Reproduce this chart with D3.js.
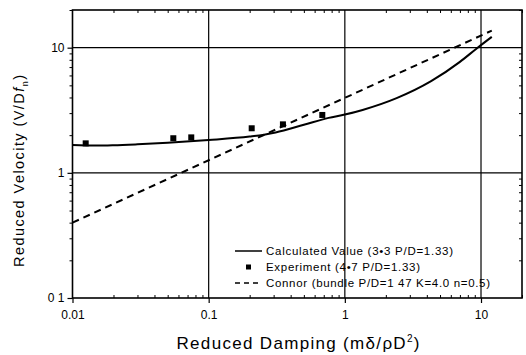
<!DOCTYPE html>
<html><head><meta charset="utf-8">
<script src="https://cdn.jsdelivr.net/npm/d3@7"></script>
<style>body{margin:0;background:#fff}svg{display:block;font-family:"Liberation Sans",Arial,sans-serif}</style>
</head><body><svg id="c" width="526" height="355"></svg>
<script>
const calcX = [0.01, 0.015, 0.02, 0.03, 0.05, 0.1, 0.2, 0.25, 0.31, 0.5, 0.76, 1, 1.35, 2.4, 4.3, 7.0, 9.3, 12.0];
const calcY = [1.67, 1.65, 1.66, 1.69, 1.74, 1.83, 1.95, 2.01, 2.1, 2.42, 2.75, 2.92, 3.18, 3.95, 5.4, 7.7, 9.86, 12.2];
const expX = [0.0125, 0.055, 0.0745, 0.207, 0.351, 0.683];
const expY = [1.72, 1.89, 1.92, 2.27, 2.44, 2.9];
const connorX = [0.01, 12];
const connorY = [0.4, 13.7];
const xTickVals = [0.01, 0.1, 1, 10];
const xTickLabels = ["0.01", "0.1", "1", "10"];
const yTickVals = [0.1, 1, 10];
const yTickLabels = ["0 1", "1", "10"];
const legendLabels = ["Calculated Value (3\u20223 P/D=1.33)", "Experiment (4\u20227 P/D=1.33)", "Connor (bundle P/D=1 47 K=4.0 n=0.5)"];

const svg = d3.select("#c");
const L = 72.5, R = 522, T = 10, B = 298;
const x = d3.scaleLog().domain([0.01, 20]).range([L, R]);
const y = d3.scaleLog().domain([0.1, 20]).range([B, T]);

// grid
const g = svg.append("g");
g.selectAll("line.vx").data([0.1, 1, 10]).join("line")
  .attr("x1", d => x(d)).attr("x2", d => x(d)).attr("y1", T).attr("y2", B)
  .attr("stroke", "#000").attr("stroke-width", 1.2);
g.selectAll("line.hy").data([1, 10]).join("line")
  .attr("y1", d => y(d)).attr("y2", d => y(d)).attr("x1", L).attr("x2", R)
  .attr("stroke", "#000").attr("stroke-width", 1.2);

// minor ticks
const xMinor = [];
for (let dec of [0.01, 0.1, 1, 10]) for (let k = 2; k <= 9; k++) { const v = dec * k; if (v <= 20) xMinor.push(v); }
const yMinor = [];
for (let dec of [0.1, 1, 10]) for (let k = 2; k <= 9; k++) { const v = dec * k; if (v <= 20) yMinor.push(v); }

const xAxis = d3.axisBottom(x).tickValues(xTickVals).tickFormat((d, i) => xTickLabels[i]).tickSize(5).tickSizeOuter(0);
const xa = svg.append("g").attr("transform", `translate(0,${B})`).call(xAxis);
xa.select(".domain").remove();
xa.selectAll("text").attr("font-size", 12).attr("dy", "1.1em").attr("fill", "#000");
xa.selectAll("line").attr("stroke", "#000").attr("stroke-width", 1.2);

const xm = d3.axisBottom(x).tickValues(xMinor).tickFormat("").tickSize(-3).tickSizeOuter(0);
const xma = svg.append("g").attr("transform", `translate(0,${B})`).call(xm);
xma.select(".domain").remove();
xma.selectAll("line").attr("stroke", "#000");

const yAxis = d3.axisLeft(y).tickValues(yTickVals).tickFormat((d, i) => yTickLabels[i]).tickSize(5).tickSizeOuter(0);
const ya = svg.append("g").attr("transform", `translate(${L},0)`).call(yAxis);
ya.select(".domain").remove();
ya.selectAll("text").attr("font-size", 12).attr("fill", "#000");
ya.selectAll("line").attr("stroke", "#000").attr("stroke-width", 1.2);

const ym = d3.axisLeft(y).tickValues(yMinor).tickFormat("").tickSize(3).tickSizeOuter(0);
const yma = svg.append("g").attr("transform", `translate(${L},0)`).call(ym);
yma.select(".domain").remove();
yma.selectAll("line").attr("stroke", "#000");

// top/right minor ticks
const xt = d3.axisTop(x).tickValues(xMinor).tickFormat("").tickSize(-3).tickSizeOuter(0);
const xta = svg.append("g").attr("transform", `translate(0,${T})`).call(xt);
xta.select(".domain").remove(); xta.selectAll("line").attr("stroke", "#000");
const yr = d3.axisRight(y).tickValues(yMinor).tickFormat("").tickSize(-3).tickSizeOuter(0);
const yra = svg.append("g").attr("transform", `translate(${R},0)`).call(yr);
yra.select(".domain").remove(); yra.selectAll("line").attr("stroke", "#000");

// frame
svg.append("rect").attr("x", L).attr("y", T).attr("width", R - L).attr("height", B - T)
  .attr("fill", "none").attr("stroke", "#000").attr("stroke-width", 1.6);

// calculated curve
const calc = calcX.map((v, i) => [v, calcY[i]]);
svg.append("path").datum(calc)
  .attr("d", d3.line().x(d => x(d[0])).y(d => y(d[1])).curve(d3.curveMonotoneX))
  .attr("fill", "none").attr("stroke", "#000").attr("stroke-width", 2);

// connor dashed
const con = connorX.map((v, i) => [v, connorY[i]]);
svg.append("path").datum(con)
  .attr("d", d3.line().x(d => x(d[0])).y(d => y(d[1])))
  .attr("fill", "none").attr("stroke", "#000").attr("stroke-width", 2).attr("stroke-dasharray", "7,5");

// experiment markers
svg.selectAll("rect.exp").data(expX.map((v, i) => [v, expY[i]])).join("rect")
  .attr("x", d => x(d[0]) - 3).attr("y", d => y(d[1]) - 3).attr("width", 6).attr("height", 6).attr("fill", "#000");

// legend
const lg = svg.append("g");
const ly = [251, 267, 283];
const lw = [187, 154, 224];
lg.append("line").attr("x1", 235).attr("x2", 262).attr("y1", ly[0]).attr("y2", ly[0]).attr("stroke", "#000").attr("stroke-width", 1.5);
lg.append("rect").attr("x", 246).attr("y", ly[1] - 2.5).attr("width", 5).attr("height", 5).attr("fill", "#000");
lg.append("line").attr("x1", 235).attr("x2", 262).attr("y1", ly[2]).attr("y2", ly[2]).attr("stroke", "#000").attr("stroke-width", 1.5).attr("stroke-dasharray", "5,4");
lg.selectAll("text").data(legendLabels).join("text")
  .attr("x", 266).attr("y", (d, i) => ly[i]).attr("dy", "0.35em").attr("font-size", 11.5).attr("fill", "#000")
  .attr("textLength", (d, i) => lw[i]).attr("lengthAdjust", "spacing").text(d => d);

// axis titles
svg.append("text").attr("x", 298).attr("y", 349).attr("text-anchor", "middle").attr("font-size", 17).attr("fill", "#000")
  .attr("textLength", 243).attr("lengthAdjust", "spacing")
  .html('Reduced Damping (m\u03B4/\u03C1D<tspan dy="-7" font-size="10">2</tspan><tspan dy="7">)</tspan>');
svg.append("text").attr("transform", "translate(24,171) rotate(-90)").attr("text-anchor", "middle").attr("font-size", 14.5).attr("fill", "#000")
  .attr("textLength", 192).attr("lengthAdjust", "spacing")
  .html('Reduced Velocity (V/D<tspan font-style="italic">f</tspan><tspan dy="4" font-size="9">n</tspan><tspan dy="-4">)</tspan>');
</script></body></html>
